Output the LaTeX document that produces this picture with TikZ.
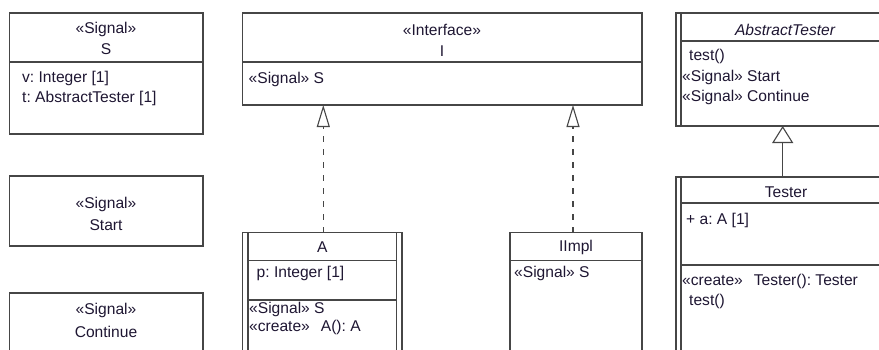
\documentclass[tikz,border=0pt]{standalone}
\usepackage{fontspec}
\setmainfont{Liberation Sans}
\usetikzlibrary{arrows.meta,calc}
\definecolor{linec}{RGB}{70,70,70}
\definecolor{textc}{RGB}{30,22,50}
\begin{document}
\frenchspacing
\begin{tikzpicture}[x=1pt,y=-1pt,
  box/.style={draw=linec, line width=1.1pt, rectangle, inner sep=0pt, outer sep=0pt, anchor=north west},
  sepline/.style={draw=linec, line width=1.1pt},
  txt/.style={inner sep=0pt, text=textc, yshift=-1.5pt, font=\fontsize{15.6}{18}\selectfont},
  lt/.style={txt, anchor=west},
  ct/.style={txt, anchor=center},
  realize/.style={draw=linec, line width=1.1pt, dash pattern=on 6pt off 7pt,
    -{Triangle[open, width=13pt, length=22pt, fill=white]}},
  generalize/.style={draw=linec, line width=1.1pt,
    -{Triangle[open, width=21pt, length=17pt, fill=white]}}]
\useasboundingbox (0,0) rectangle (879,349);
\clip (0,0) rectangle (879,349);

% ---- S ----
\node[box, minimum width=193.5pt, minimum height=121pt] (S) at (9.5,13) {};
\draw[sepline] (9.5,62) -- (203,62);
\node[ct] (Sst) at (106,28) {«Signal»};
\node[ct] (Sn) at (106,48) {S};
\node[lt] (Sv) at (22,77) {v: Integer [1]};
\node[lt] (St) at (22,97) {t: AbstractTester [1]};

% ---- Start ----
\node[box, minimum width=193.5pt, minimum height=70pt] (Start) at (9.5,176) {};
\node[ct] (Startst) at (106,203) {«Signal»};
\node[ct] (Startn) at (106,224) {Start};

% ---- Continue ----
\node[box, minimum width=193.5pt, minimum height=80pt] (Cont) at (9.5,293) {};
\node[ct] (Contst) at (106,309) {«Signal»};
\node[ct] (Contn) at (106,330) {Continue};

% ---- I ----
\node[box, minimum width=399.3pt, minimum height=92pt] (I) at (242.7,13) {};
\draw[sepline] (242.7,62) -- (642,62);
\node[ct] (Ist) at (442,28) {«Interface»};
\node[ct] (In) at (442,50) {I};
\node[lt] (Isig) at (248.5,78) {«Signal» S};

% ---- A (active class) ----
\node[box, minimum width=159.3pt, minimum height=140pt] (A) at (242.7,232.7) {};
\draw[sepline] (248,232.7) -- (248,373);
\draw[sepline] (396.7,232.7) -- (396.7,373);
\draw[sepline] (248,260.7) -- (396.7,260.7);
\draw[sepline] (248,300) -- (396.7,300);
\node[ct] (An) at (322.3,246) {A};
\node[lt] (Ap) at (256.5,272) {p: Integer [1]};
\node[lt] (Asig) at (249,308) {«Signal» S};
\node[lt] (Acr) at (249,326) {«create»\hspace{11pt}A(): A};

% ---- IImpl ----
\node[box, minimum width=132pt, minimum height=140pt] (IImpl) at (510,232.7) {};
\draw[sepline] (510,260.7) -- (642,260.7);
\node[ct] (IImpln) at (576,246) {IImpl};
\node[lt] (IImplsig) at (514,272) {«Signal» S};

% ---- AbstractTester ----
\node[box, minimum width=224pt, minimum height=113pt] (AT) at (676,13) {};
\draw[sepline] (681,13) -- (681,126);
\draw[sepline] (681,41) -- (900,41);
\node[ct, font=\fontsize{15.6}{18}\selectfont\itshape] (ATn) at (785,28) {AbstractTester};
\node[lt] (ATtest) at (689,55) {test()};
\node[lt] (ATstart) at (682,76) {«Signal» Start};
\node[lt] (ATcont) at (682,96) {«Signal» Continue};

% ---- Tester ----
\node[box, minimum width=224pt, minimum height=196pt] (T) at (676,177) {};
\draw[sepline] (681,177) -- (681,373);
\draw[sepline] (681,203) -- (900,203);
\draw[sepline] (681,265) -- (900,265);
\node[ct] (Tn) at (786,191) {Tester};
\node[lt] (Ta) at (686,219) {+ a: A [1]};
\node[lt] (Tcr) at (682,280) {«create»\hspace{11pt}Tester(): Tester};
\node[lt] (Ttest) at (689,300) {test()};

% ---- connectors ----
\draw[realize] ($(A.north west)+(80.6,0)$) -- ($(I.south west)+(80.6,0)$);
\draw[realize] ($(IImpl.north west)+(63,0)$) -- ($(I.south west)+(330.3,0)$);
\draw[generalize] ($(T.north west)+(106.7,0)$) -- ($(AT.south west)+(106.7,0)$);
\end{tikzpicture}
\end{document}
